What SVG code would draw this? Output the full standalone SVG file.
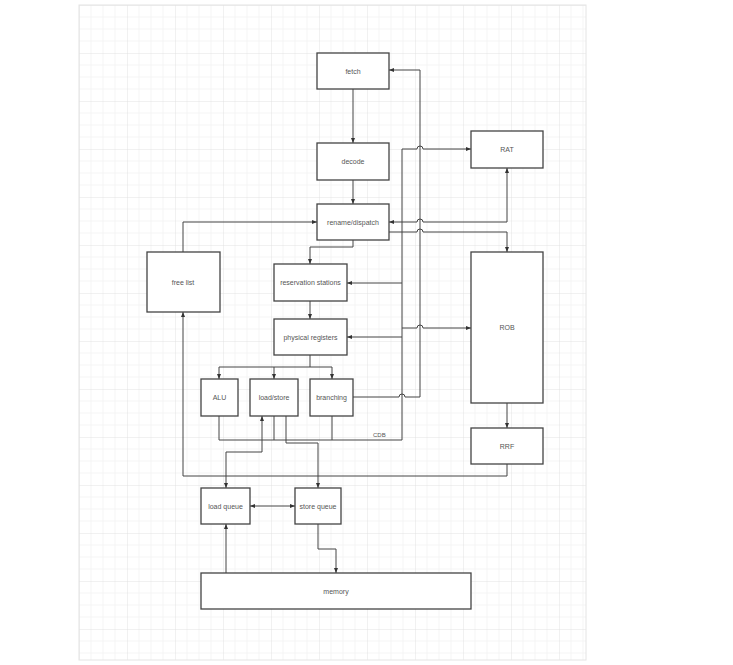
<svg xmlns="http://www.w3.org/2000/svg" width="733" height="665" viewBox="0 0 733 665">
<defs>
<pattern id="g" x="79" y="5" width="48" height="48" patternUnits="userSpaceOnUse">
<path d="M12 0V48M24 0V48M36 0V48M0 12H48M0 24H48M0 36H48" stroke="#eeeeee" stroke-width="0.6" fill="none"/>
<path d="M0 0V48M0 0H48" stroke="#dddddd" stroke-width="0.8" fill="none"/>
</pattern>
<marker id="a" viewBox="0 0 10 10" refX="10" refY="5" markerWidth="5" markerHeight="5" orient="auto-start-reverse"><path d="M0 1L10 5L0 9z" fill="#333"/></marker>
</defs>
<style>
.n rect{fill:#fff;stroke:#444;stroke-width:1.3}
.n text{font-family:"Liberation Sans",Arial,sans-serif;font-size:7px;fill:#555;text-anchor:middle;dominant-baseline:central}
#c path{fill:none;stroke:#444;stroke-width:1}
.l{font-family:"Liberation Sans",Arial,sans-serif;font-size:6px;fill:#555}
</style>
<rect width="733" height="665" fill="#fff"/>
<rect x="79" y="5" width="507" height="655" fill="url(#g)" stroke="#e4e4e4"/>
<g id="c">
<path d="M353 89V143" marker-end="url(#a)"/>
<path d="M353 180V204" marker-end="url(#a)"/>
<path d="M353 240V247H310V264" marker-end="url(#a)"/>
<path d="M310 301V319" marker-end="url(#a)"/>
<path d="M310 355V367M219 367H332" />
<path d="M219 367V379" marker-end="url(#a)"/>
<path d="M274 367V379" marker-end="url(#a)"/>
<path d="M332 367V379" marker-end="url(#a)"/>
<path d="M183 252V222H317" marker-end="url(#a)"/>
<path d="M353 397H399a3 3 0 0 1 6 0H420V70H389" marker-end="url(#a)"/>
<path d="M219 416V440H402V149H417a3 3 0 0 1 6 0H471" marker-end="url(#a)"/>
<path d="M274 416V440M332 416V440"/>
<path d="M402 283H347" marker-end="url(#a)"/>
<path d="M402 337H347" marker-end="url(#a)"/>
<path d="M402 328H417a3 3 0 0 1 6 0H471" marker-end="url(#a)"/>
<path d="M389 222H417a3 3 0 0 1 6 0H507V168" marker-start="url(#a)" marker-end="url(#a)"/>
<path d="M389 232H417a3 3 0 0 1 6 0H507V252" marker-end="url(#a)"/>
<path d="M507 403V428" marker-end="url(#a)"/>
<path d="M507 464V476H183V312" marker-end="url(#a)"/>
<path d="M226 488V452H262V416" marker-start="url(#a)" marker-end="url(#a)"/>
<path d="M286 416V443H318V488" marker-end="url(#a)"/>
<path d="M250 506H295" marker-start="url(#a)" marker-end="url(#a)"/>
<path d="M318 524V549H336V573" marker-end="url(#a)"/>
<path d="M226 573V524" marker-end="url(#a)"/>
</g>
<text class="l" x="373" y="437">CDB</text>
<g id="fetch" class="n"><rect x="317" y="53" width="72" height="36"/><text x="353" y="71">fetch</text></g>
<g id="decode" class="n"><rect x="317" y="143" width="72" height="37"/><text x="353" y="161.5">decode</text></g>
<g id="rename" class="n"><rect x="317" y="204" width="72" height="36"/><text x="353" y="222">rename/dispatch</text></g>
<g id="rat" class="n"><rect x="471" y="131" width="72" height="37"/><text x="507" y="149.5">RAT</text></g>
<g id="freelist" class="n"><rect x="147" y="252" width="73" height="60"/><text x="183" y="282">free list</text></g>
<g id="rs" class="n"><rect x="274" y="264" width="73" height="37"/><text x="310.5" y="282.5">reservation stations</text></g>
<g id="pr" class="n"><rect x="274" y="319" width="73" height="36"/><text x="310.5" y="337">physical registers</text></g>
<g id="alu" class="n"><rect x="201" y="379" width="37" height="37"/><text x="219.5" y="397.5">ALU</text></g>
<g id="ls" class="n"><rect x="250" y="379" width="48" height="37"/><text x="274" y="397.5">load/store</text></g>
<g id="br" class="n"><rect x="310" y="379" width="43" height="37"/><text x="331.5" y="397.5">branching</text></g>
<g id="rob" class="n"><rect x="471" y="252" width="72" height="151"/><text x="507" y="327.5">ROB</text></g>
<g id="rrf" class="n"><rect x="471" y="428" width="72" height="36"/><text x="507" y="446">RRF</text></g>
<g id="lq" class="n"><rect x="201" y="488" width="49" height="36"/><text x="225.5" y="506">load queue</text></g>
<g id="sq" class="n"><rect x="295" y="488" width="46" height="36"/><text x="318" y="506">store queue</text></g>
<g id="mem" class="n"><rect x="201" y="573" width="270" height="36"/><text x="336" y="591">memory</text></g>
</svg>
